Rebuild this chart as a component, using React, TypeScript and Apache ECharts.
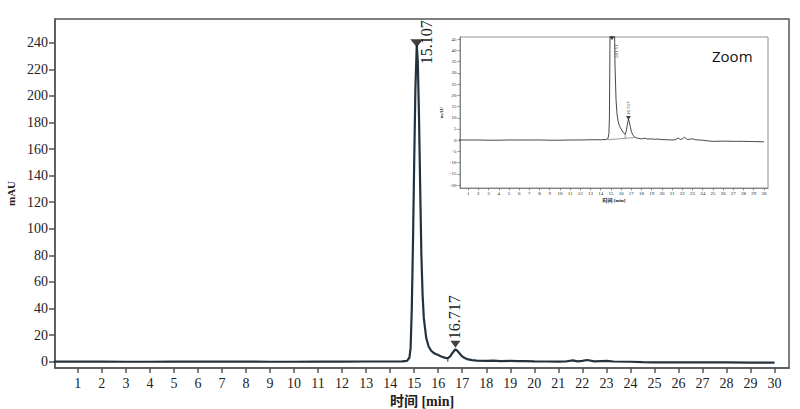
import React, { useEffect, useRef } from "react";
import * as echarts from "echarts";

// retention time (min)
const timeMin = [
  0, 1, 2, 3, 4, 5, 6, 7, 8, 9, 10, 11, 12, 13, 14, 14.5, 14.7, 14.8, 14.85, 14.9,
  14.95, 15.0, 15.05, 15.107, 15.15, 15.2, 15.25, 15.3, 15.35, 15.4, 15.5, 15.6, 15.7,
  15.8, 15.9, 16.0, 16.1, 16.2, 16.3, 16.4, 16.5, 16.6, 16.717, 16.8, 16.9, 17.0, 17.1,
  17.2, 17.4, 17.6, 18.0, 18.3, 18.6, 19.0, 19.3, 19.6, 20.0, 20.5, 21.0, 21.3, 21.6,
  21.8, 22.0, 22.2, 22.5, 22.8, 23.0, 23.3, 24.0, 24.5, 25.0, 26.0, 27.0, 28.0, 29.0,
  29.8, 30.0,
];
// absorbance (mAU)
const signal = [
  0.1, 0.1, 0.1, 0.0, 0.0, 0.1, 0.1, 0.1, 0.1, 0.0, 0.0, 0.1, 0.1, 0.2, 0.2, 0.3, 0.6, 3, 10, 40,
  90, 150, 205, 238, 226, 185, 130, 80, 50, 33, 18, 11.5, 8.5,
  6.8, 5.8, 5.0, 4.2, 3.5, 2.9, 2.7, 4.0, 6.8, 9.4, 8.2, 6.0, 4.0, 2.8,
  2.0, 1.2, 0.9, 0.6, 0.9, 0.5, 0.6, 0.4, 0.5, 0.3, 0.2, 0.1, 0.2, 1.0,
  0.3, 0.6, 1.3, 0.3, 0.5, 0.6, 0.2, 0.0, -0.3, -0.5, -0.4, -0.5, -0.5, -0.6,
  -0.7, -0.7,
];
const peakTimes = [15.107, 16.717];
const peakHeights = [238, 9.4];
const peakLabels = ["15.107", "16.717"];
// integration baseline and drop line (inset)
const baseLineTimes = [14.7, 17.3];
const baseLineValues = [0.2, 1.2];
const dropTime = 16.4;
const dropValues = [0.9, 2.7];

const xTicks = Array.from({ length: 30 }, (_, i) => i + 1);
const yTicks = [0, 20, 40, 60, 80, 100, 120, 140, 160, 180, 200, 220, 240];
const insetYTicks = [-20, -15, -10, -5, 0, 5, 10, 15, 20, 25, 30, 35, 40, 45];

const SERIF = "'Liberation Serif', 'DejaVu Serif', 'Noto Sans CJK SC', serif";
const LINE = "#24323e";

export default function App() {
  const ref = useRef<HTMLDivElement>(null);
  useEffect(() => {
    document.body.style.margin = "0";
    if (!ref.current) return;
    const chart = echarts.init(ref.current, null, { renderer: "svg" });
    const curve = timeMin.map((t, i) => [t, signal[i]]);
    const peaks = peakTimes.map((t, i) => [t, peakHeights[i]]);

    const mkX = (gi: number, min: number, max: number, fs: number, tickLen: number, labelMargin: number, name: string, nameGap: number, lw: number) => ({
      type: "value",
      gridIndex: gi,
      min,
      max,
      name,
      nameLocation: "middle",
      nameGap,
      nameTextStyle: { fontFamily: SERIF, fontSize: fs, color: "#222", fontWeight: "bold" },
      axisLine: { show: true, onZero: false, lineStyle: { color: "#555", width: lw } },
      axisTick: { show: true, customValues: xTicks, length: tickLen, lineStyle: { color: "#555", width: lw } },
      axisLabel: { show: true, customValues: xTicks, fontFamily: SERIF, fontSize: fs, color: "#222", margin: labelMargin },
      splitLine: { show: false },
    });
    const mkY = (gi: number, min: number, max: number, ticks: number[], fs: number, nfs: number, tickLen: number, name: string, nameGap: number, lw: number) => ({
      type: "value",
      gridIndex: gi,
      min,
      max,
      name,
      nameLocation: "middle",
      nameGap,
      nameTextStyle: { fontFamily: SERIF, fontSize: nfs, color: "#222", fontWeight: "bold" },
      axisLine: { show: true, onZero: false, lineStyle: { color: "#555", width: lw } },
      axisTick: { show: true, customValues: ticks, length: tickLen, lineStyle: { color: "#555", width: lw } },
      axisLabel: { show: true, customValues: ticks, fontFamily: SERIF, fontSize: fs, color: "#222", margin: tickLen + 1 },
      splitLine: { show: false },
    });

    chart.setOption({
      animation: false,
      backgroundColor: "#fff",
      grid: [
        { left: 55, top: 19, right: 11, bottom: 41, outerBoundsMode: "none", containLabel: false, show: true, borderColor: "#555", borderWidth: 1.5, backgroundColor: "transparent" },
        { left: 460, top: 37, width: 308, height: 151, outerBoundsMode: "none", containLabel: false, show: true, borderColor: "#777", borderWidth: 0.8, backgroundColor: "#fff" },
      ],
      xAxis: [
        mkX(0, 0.05, 30.6, 14, 5, 8, "时间 [min]", 21, 1.5),
        mkX(1, 0.2, 30.4, 5, 2.5, 3, "时间 [min]", 10, 0.6),
      ],
      yAxis: [
        mkY(0, -4.7, 257.8, yTicks, 14, 11, 6, "mAU", 38, 1.5),
        mkY(1, -21.3, 46, insetYTicks, 5, 5, 2.5, "mAU", 16, 0.6),
      ],
      series: [
        {
          type: "line",
          xAxisIndex: 0,
          yAxisIndex: 0,
          data: curve,
          showSymbol: false,
          lineStyle: { color: LINE, width: 2.2 },
          z: 3,
        },
        {
          type: "line",
          xAxisIndex: 0,
          yAxisIndex: 0,
          data: [[dropTime, 0], [dropTime, dropValues[1]]],
          showSymbol: false,
          lineStyle: { color: LINE, width: 1 },
        },
        {
          type: "scatter",
          xAxisIndex: 0,
          yAxisIndex: 0,
          data: peaks.map((p, i) => ({
            value: p,
            symbolSize: i === 0 ? [13, 8] : [10, 7],
            symbolOffset: i === 0 ? [0, -2] : [0, -5],
          })),
          symbol: "triangle",
          symbolRotate: 180,
          itemStyle: { color: "#111" },
          z: 5,
        },
        {
          type: "line",
          xAxisIndex: 1,
          yAxisIndex: 1,
          data: curve,
          showSymbol: false,
          clip: true,
          lineStyle: { color: "#333", width: 0.9 },
          z: 3,
        },
        {
          type: "line",
          xAxisIndex: 1,
          yAxisIndex: 1,
          data: baseLineTimes.map((t, i) => [t, baseLineValues[i]]),
          showSymbol: false,
          lineStyle: { color: "#555", width: 0.6 },
        },
        {
          type: "line",
          xAxisIndex: 1,
          yAxisIndex: 1,
          data: dropValues.map((v) => [dropTime, v]),
          showSymbol: false,
          lineStyle: { color: "#555", width: 0.6 },
        },
        {
          type: "scatter",
          xAxisIndex: 1,
          yAxisIndex: 1,
          data: peaks.map((p) => [p[0], Math.min(p[1], 45)]),
          symbol: "triangle",
          symbolRotate: 180,
          symbolSize: [5, 4],
          symbolOffset: [0, -1],
          itemStyle: { color: "#111" },
          z: 5,
        },
      ],
    });

    const p1 = chart.convertToPixel({ gridIndex: 0 }, peaks[0]) as number[];
    const p2 = chart.convertToPixel({ gridIndex: 0 }, peaks[1]) as number[];
    const q1 = chart.convertToPixel({ gridIndex: 1 }, [peaks[0][0], 45]) as number[];
    const q2 = chart.convertToPixel({ gridIndex: 1 }, peaks[1]) as number[];

    chart.setOption({
      graphic: [
        {
          type: "text",
          x: p1[0] + 10,
          y: p1[1] + 19,
          rotation: Math.PI / 2,
          style: { text: peakLabels[0], fontFamily: SERIF, fontSize: 16, fill: "#222", align: "left", verticalAlign: "middle" },
          z: 10,
        },
        {
          type: "text",
          x: p2[0] - 1,
          y: p2[1] - 10,
          rotation: Math.PI / 2,
          style: { text: peakLabels[1], fontFamily: SERIF, fontSize: 16, fill: "#222", align: "left", verticalAlign: "middle" },
          z: 10,
        },
        {
          type: "text",
          x: q1[0] + 4,
          y: q1[1] + 5,
          rotation: -Math.PI / 2,
          style: { text: peakLabels[0], fontFamily: SERIF, fontSize: 5, fill: "#333", align: "left", verticalAlign: "middle" },
          z: 10,
        },
        {
          type: "text",
          x: q2[0],
          y: q2[1] - 4,
          rotation: Math.PI / 2,
          style: { text: peakLabels[1], fontFamily: SERIF, fontSize: 5, fill: "#333", align: "left", verticalAlign: "middle" },
          z: 10,
        },
        {
          type: "text",
          x: 712,
          y: 56,
          style: { text: "Zoom", fontFamily: "'Open Sans', 'Noto Sans', sans-serif", fontSize: 15, fill: "#111", align: "left", verticalAlign: "middle" },
          z: 10,
        },
      ],
    });

    return () => chart.dispose();
  }, []);
  return <div ref={ref} style={{ width: 800, height: 409 }} />;
}
